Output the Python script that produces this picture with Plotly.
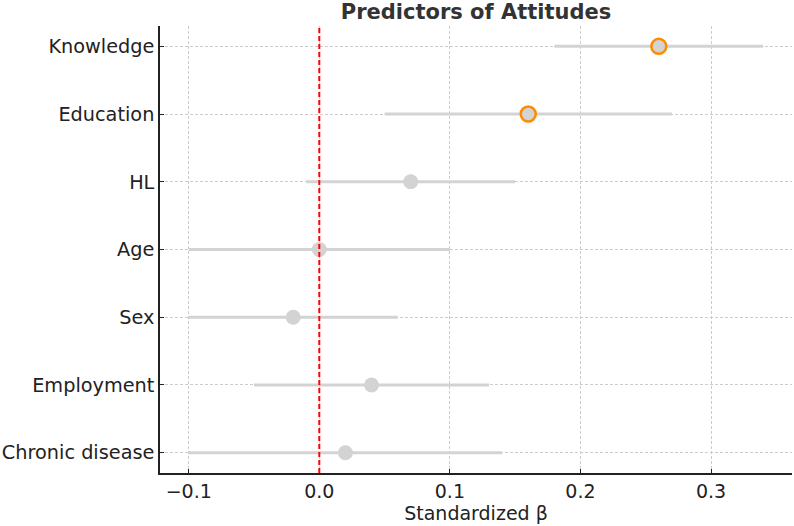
import plotly.graph_objects as go

predictors = ["Knowledge", "Education", "HL", "Age", "Sex", "Employment", "Chronic disease"]
beta = [0.26, 0.16, 0.07, 0.00, -0.02, 0.04, 0.02]
ci_low = [0.18, 0.05, -0.01, -0.10, -0.10, -0.05, -0.10]
ci_high = [0.34, 0.27, 0.15, 0.10, 0.06, 0.13, 0.14]
significant = [True, True, False, False, False, False, False]

err_plus = [h - b for h, b in zip(ci_high, beta)]
err_minus = [b - l for b, l in zip(beta, ci_low)]
ypos = list(range(len(predictors) - 1, -1, -1))

fig = go.Figure()
fig.add_trace(go.Scatter(
    x=beta, y=ypos, mode="markers",
    error_x=dict(type="data", symmetric=False, array=err_plus, arrayminus=err_minus,
                 color="#d3d3d3", thickness=3, width=0),
    marker=dict(size=15, color="#d3d3d3",
                line=dict(color=["#ff8c00" if s else "#d3d3d3" for s in significant],
                          width=[2.5 if s else 0 for s in significant])),
    showlegend=False, hoverinfo="x+y",
))
fig.add_shape(type="line", xref="x", yref="paper", x0=0, x1=0, y0=0, y1=1,
              line=dict(color="#ff0000", width=2, dash="5px,3px"))

font = "DejaVu Sans, Verdana, sans-serif"
fig.update_layout(
    width=794, height=526,
    margin=dict(l=160, r=2, t=26, b=53),
    plot_bgcolor="white", paper_bgcolor="white",
    font=dict(family=font, size=19, color="#222222"),
    title=dict(text="<b>Predictors of Attitudes</b>", x=0.5, xanchor="center",
               xref="paper", y=0.977, yanchor="middle", font=dict(size=21, color="#333333")),
    xaxis=dict(range=[-0.122, 0.362], tickvals=[-0.1, 0.0, 0.1, 0.2, 0.3],
               ticktext=["\u22120.1", "0.0", "0.1", "0.2", "0.3"],
               showgrid=True, gridcolor="#cccccc", griddash="3px,2px", gridwidth=1,
               zeroline=False, showline=True, linecolor="#222222", linewidth=1.5,
               ticks="inside", ticklen=4, tickcolor="#222222", automargin=False,
               title=dict(text="Standardized \u03b2", font=dict(size=19), standoff=4),
               tickfont=dict(size=19)),
    yaxis=dict(range=[-0.3, 6.3], tickvals=ypos, ticktext=predictors,
               showgrid=True, gridcolor="#cccccc", griddash="3px,2px", gridwidth=1,
               zeroline=False, showline=True, linecolor="#222222", linewidth=1.5,
               ticks="inside", ticklen=4, tickcolor="#222222", automargin=False,
               tickfont=dict(size=19.3)),
)
fig.write_html("out.html")
